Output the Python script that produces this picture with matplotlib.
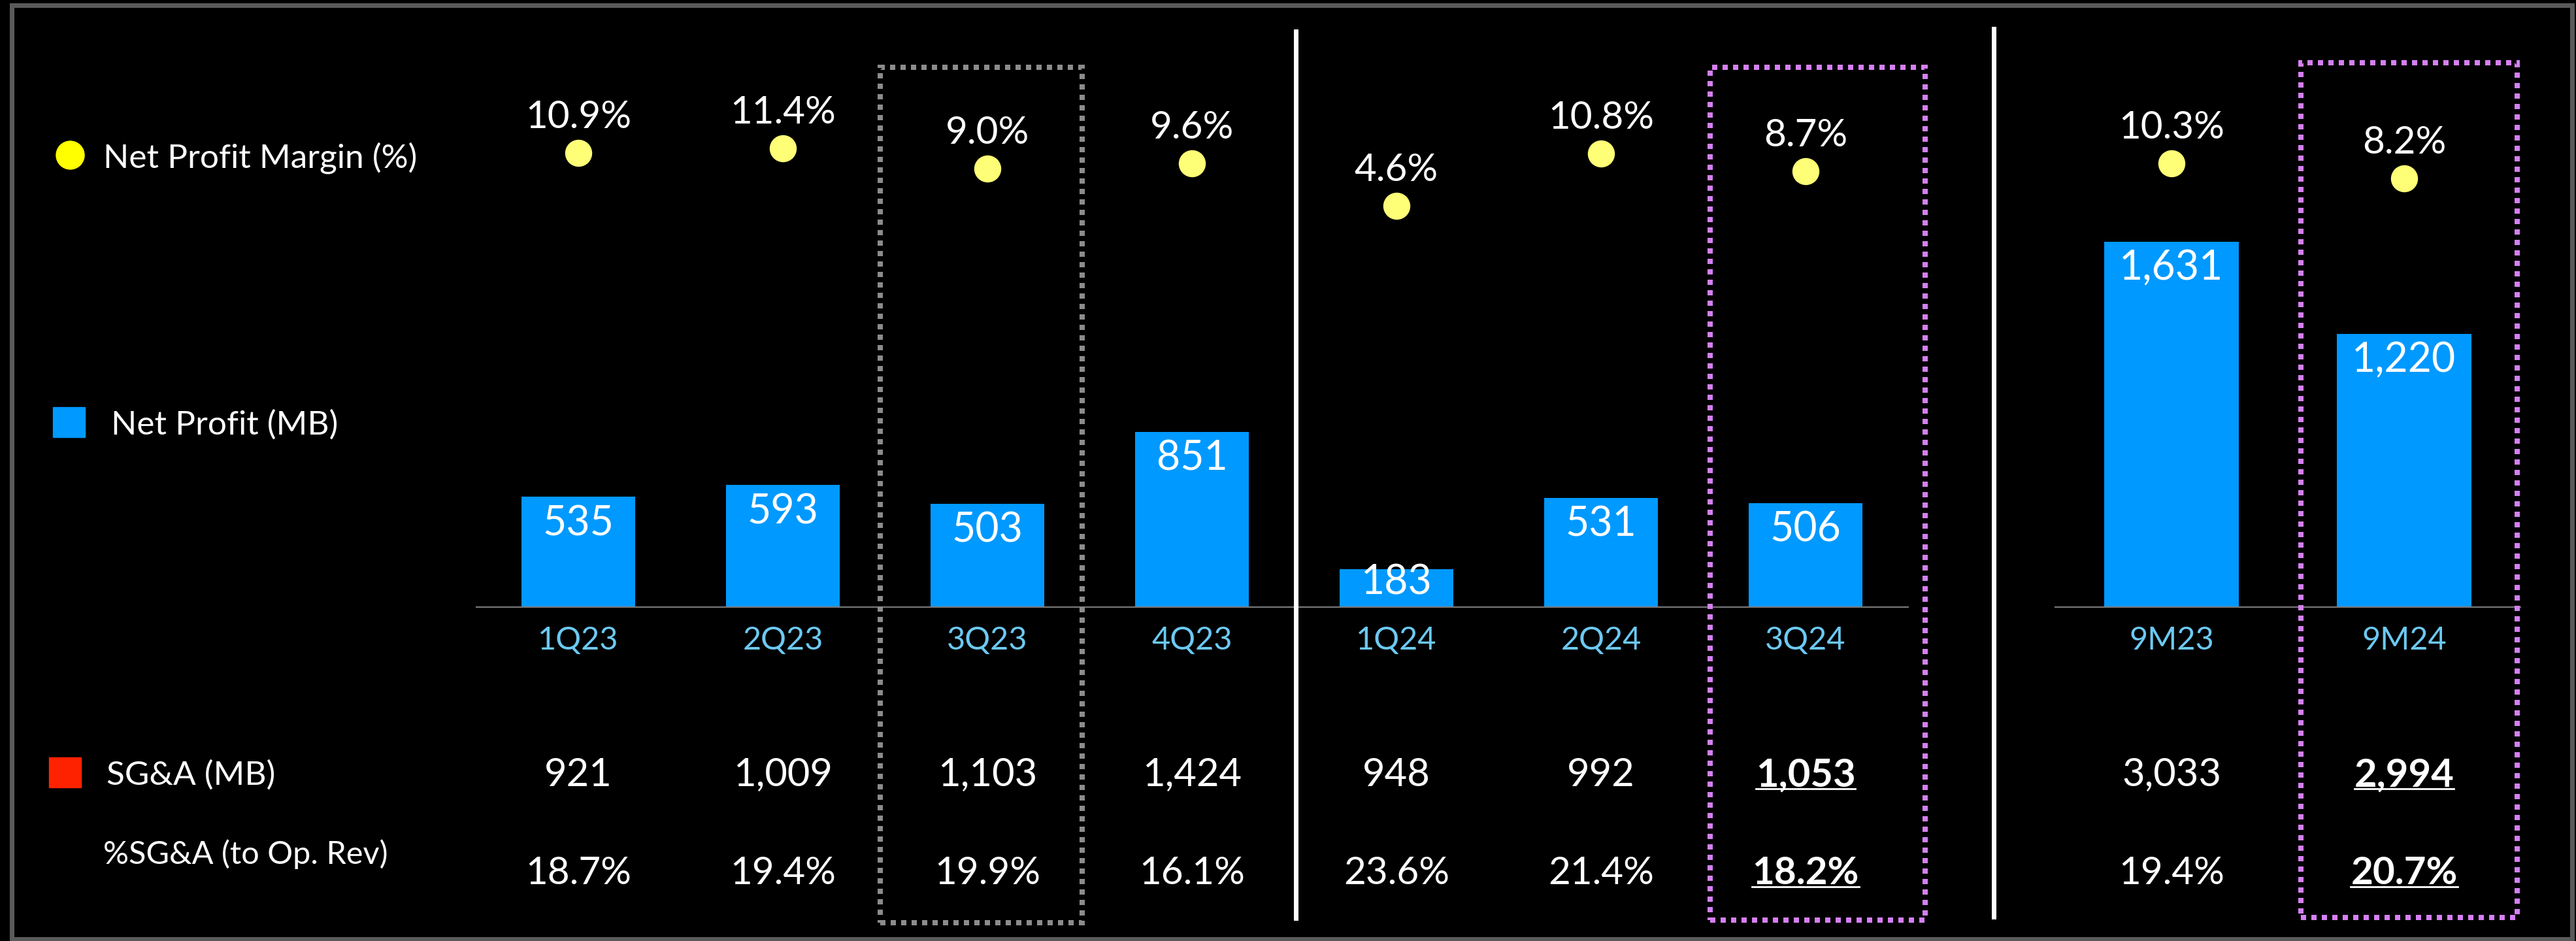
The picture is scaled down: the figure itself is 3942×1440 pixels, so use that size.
import matplotlib.pyplot as plt
import matplotlib.patches as patches
from matplotlib.lines import Line2D
from matplotlib import transforms

plt.rcParams['font.family'] = ['Lato', 'DejaVu Sans']

# quarterly data
quarters = ['1Q23', '2Q23', '3Q23', '4Q23', '1Q24', '2Q24', '3Q24']
q_profit = [535, 593, 503, 851, 183, 531, 506]
q_margin = [10.9, 11.4, 9.0, 9.6, 4.6, 10.8, 8.7]
q_sga = ['921', '1,009', '1,103', '1,424', '948', '992', '1,053']
q_sga_pct = ['18.7%', '19.4%', '19.9%', '16.1%', '23.6%', '21.4%', '18.2%']

# nine-month data
periods = ['9M23', '9M24']
m_profit = [1631, 1220]
m_margin = [10.3, 8.2]
m_sga = ['3,033', '2,994']
m_sga_pct = ['19.4%', '20.7%']

W, H = 3942, 1440
BAR = '#0099ff'
DOT = '#ffff77'
CAT = '#6cc9f2'
PX = 100 / 72  # pixels per point


def fx(x):
    return x / W


def fy(y):
    return 1 - y / H


fig = plt.figure(figsize=(W / 100, H / 100), dpi=100, facecolor='black')

underlined = []


def draw_section(left, right, labels, profit, margin, sga, pct, width, px_per, m_lo, m_hi, hl):
    ax = fig.add_axes([fx(left), fy(929), (right - left) / W, 829 / H])
    ax.set_facecolor('none')
    x = list(range(len(labels)))
    ax.bar(x, profit, width=width, color=BAR, zorder=2)
    ax.set_xlim(-0.5, len(labels) - 0.5)
    ax.set_ylim(0, 829 / px_per)
    for s in ['top', 'left', 'right']:
        ax.spines[s].set_visible(False)
    ax.spines['bottom'].set_color('#7a7a7a')
    ax.spines['bottom'].set_linewidth(1.5)
    ax.set_xticks([])
    ax.set_yticks([])

    for i, v in enumerate(profit):
        h_px = v * px_per
        off = min(59, h_px - 20)
        ax.annotate(f'{v:,}', (i, v), xytext=(0, -off / PX), textcoords='offset points',
                    ha='center', va='baseline', color='white', fontsize=45, zorder=3)
        ax.annotate(labels[i], (i, 0), xytext=(0, -65 / PX), textcoords='offset points',
                    ha='center', va='baseline', color=CAT, fontsize=35)

    ax2 = ax.twinx()
    ax2.set_ylim(m_lo, m_hi)
    ax2.axis('off')
    ax2.plot(x, margin, 'o', ms=40 / PX, color=DOT, ls='none')
    for i, m in enumerate(margin):
        ax2.annotate(f'{m:.1f}%', (i, m), xytext=(0, 38 / PX), textcoords='offset points',
                     ha='center', va='baseline', color='white', fontsize=42)

    trans = transforms.blended_transform_factory(ax.transData, fig.transFigure)
    for i in x:
        bold = i == hl
        t1 = ax.text(i, fy(1203), sga[i], transform=trans, ha='center', va='baseline',
                     color='white', fontsize=43, fontweight='bold' if bold else 'normal')
        t2 = ax.text(i, fy(1353), pct[i], transform=trans, ha='center', va='baseline',
                     color='white', fontsize=42, fontweight='bold' if bold else 'normal')
        if bold:
            underlined.append((t1, 1207))
            underlined.append((t2, 1357))
    return ax


draw_section(728.5, 2919.5, quarters, q_profit, q_margin, q_sga, q_sga_pct,
             0.553, 0.315, -43.16, 21.3, 6)
draw_section(3145, 3857, periods, m_profit, m_margin, m_sga, m_sga_pct,
             0.58, 0.343, -51.69, 24.02, 1)

# legend column
fig.add_artist(Line2D([fx(107)], [fy(237)], marker='o', ms=43 / PX, color='#ffff00',
                      ls='none', transform=fig.transFigure))
fig.text(fx(158), fy(256), 'Net Profit Margin (%)', color='white', fontsize=37, va='baseline')
fig.add_artist(patches.Rectangle((fx(81), fy(669)), 49 / W, 46 / H, color=BAR,
                                 transform=fig.transFigure))
fig.text(fx(170), fy(665), 'Net Profit (MB)', color='white', fontsize=37, va='baseline')
fig.add_artist(patches.Rectangle((fx(75), fy(1205)), 49 / W, 46 / H, color='#ff2200',
                                 transform=fig.transFigure))
fig.text(fx(163), fy(1201), 'SG&A (MB)', color='white', fontsize=37, va='baseline')
fig.text(fx(158), fy(1322), '%SG&A (to Op. Rev)', color='white', fontsize=35, va='baseline')

# section dividers
for xd, y0, y1 in [(1983, 48, 1405), (3051, 44, 1403)]:
    fig.add_artist(Line2D([fx(xd), fx(xd)], [fy(y0), fy(y1)], color='white', lw=7 / PX,
                          transform=fig.transFigure))

# highlight boxes
for (x0, y0, x1, y1), col in [((1347, 103, 1656, 1412), '#8c8c8c'),
                              ((2617, 103, 2946, 1408), '#d580f5'),
                              ((3521, 96, 3852, 1404), '#d580f5')]:
    fig.add_artist(patches.Rectangle((fx(x0), fy(y1)), (x1 - x0) / W, (y1 - y0) / H,
                                     fill=False, edgecolor=col, lw=8 / PX,
                                     linestyle=(0, (1, 1)), transform=fig.transFigure))

# outer frame
fig.add_artist(patches.Rectangle((fx(18), fy(1437)), (3936 - 18) / W, (1437 - 7.5) / H,
                                 fill=False, edgecolor='#5a5a5a', lw=7 / PX,
                                 transform=fig.transFigure))

# underline the highlighted values
fig.canvas.draw()
r = fig.canvas.get_renderer()
for t, y in underlined:
    bb = t.get_window_extent(r)
    fig.add_artist(Line2D([bb.x0 / W, bb.x1 / W], [fy(y), fy(y)], color='white', lw=2,
                          transform=fig.transFigure))

fig.savefig('out.png', dpi=100, facecolor='black')
